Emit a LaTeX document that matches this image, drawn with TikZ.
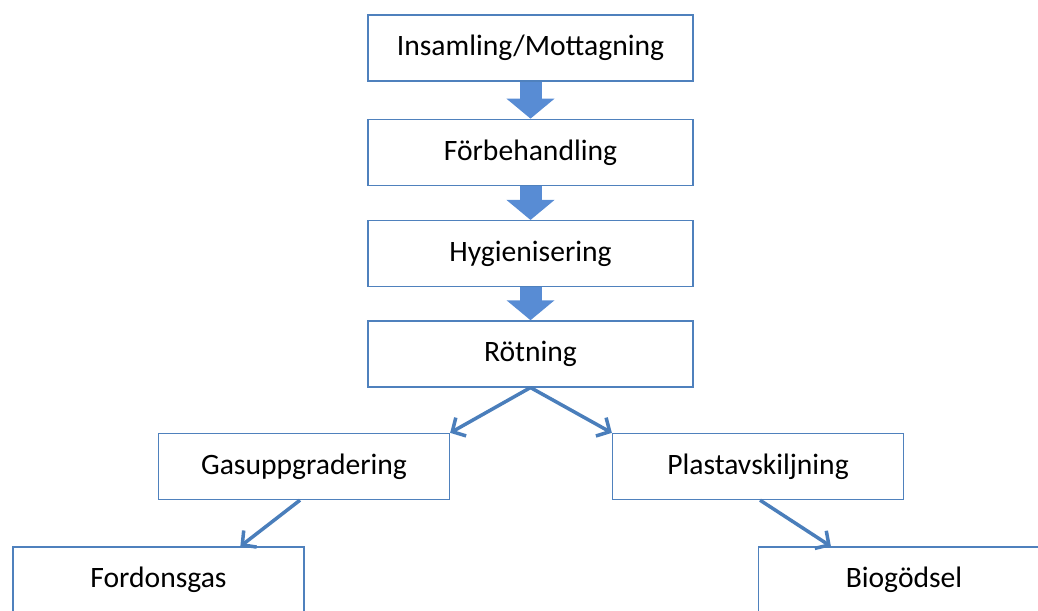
\documentclass[tikz,border=0pt]{standalone}
\usepackage{fontspec}
\setmainfont{Carlito}
\usetikzlibrary{positioning,arrows.meta,calc}
\definecolor{boxblue}{RGB}{79,129,189}
\definecolor{linkblue}{RGB}{74,126,187}
\definecolor{fatblue}{RGB}{88,140,212}
\tikzset{
	stepbox/.style={draw=boxblue,line width=1.3pt,fill=white,minimum height=66pt,
		inner sep=0pt,font=\fontsize{29.6}{34}\selectfont},
	widebox/.style={stepbox,minimum width=325pt},
	sidebox/.style={stepbox,minimum width=291pt},
	fatarrow/.style={fatblue,line width=22pt,-{Triangle[width=47pt,length=20pt]}},
	thinarrow/.style={linkblue,line width=3.5pt,-{Straight Barb[length=10pt,width=21pt]}}
}
\begin{document}
\begin{tikzpicture}[x=1pt,y=-1pt]
	\clip (0,0) rectangle (1038,610);
	% main chain
	\node[widebox] (ins) at (530.5,48) {Insamling/Mottagning};
	\node[widebox,below=37pt of ins] (forb) {Förbehandling};
	\node[widebox,below=34pt of forb] (hyg) {Hygienisering};
	\node[widebox,below=33pt of hyg] (rot) {Rötning};
	% branches
	\node[sidebox] (gas) at (304,466.5) {Gasuppgradering};
	\node[sidebox] (plast) at (758,466.5) {Plastavskiljning};
	\node[sidebox] (ford) at (158.5,580) {Fordonsgas};
	\node[sidebox] (bio) at (904,580) {Biogödsel};
	\draw[fatarrow] (ins.south) -- (forb.north);
	\draw[fatarrow] (forb.south) -- (hyg.north);
	\draw[fatarrow] (hyg.south) -- (rot.north);
	\draw[thinarrow] (rot.south) -- (gas.north east);
	\draw[thinarrow] (rot.south) -- (plast.north west);
	\draw[thinarrow] ($(gas.south)+(-4,0)$) -- ($(ford.north west)!0.78!(ford.north east)$);
	\draw[thinarrow] ($(plast.south)+(2,0)$) -- ($(bio.north west)!0.25!(bio.north east)$);
\end{tikzpicture}
\end{document}
